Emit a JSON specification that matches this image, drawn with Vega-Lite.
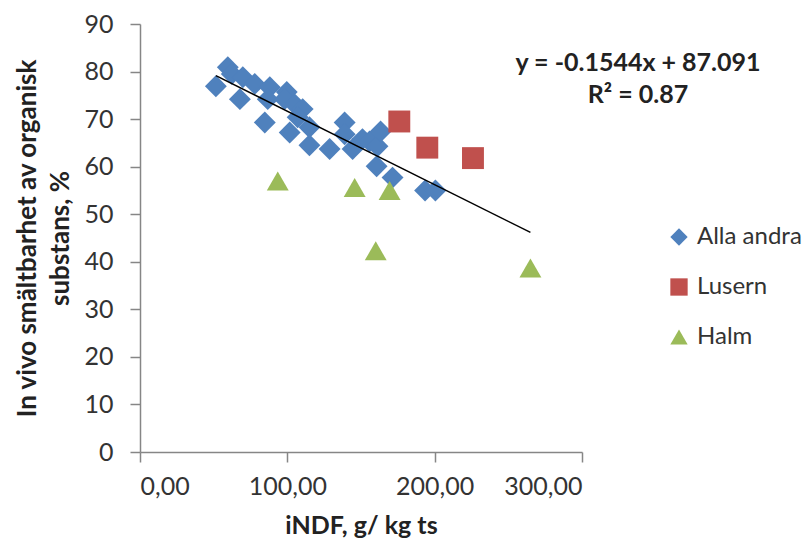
{
  "$schema": "https://vega.github.io/schema/vega-lite/v6.json",
  "width": 442,
  "height": 428,
  "autosize": {"type": "none"},
  "padding": {"left": 140, "top": 24, "right": 223, "bottom": 91},
  "background": "white",
  "config": {
    "view": {"stroke": null},
    "font": "Lato",
    "axis": {"grid": false, "domainColor": "#868686", "tickColor": "#868686", "labelColor": "#333333", "titleColor": "#222222", "labelFont": "Lato", "titleFont": "Lato", "labelFontSize": 25, "titleFontSize": 26, "titleFontWeight": "bold", "tickSize": 10, "domainWidth": 1.5, "tickWidth": 1.5},
    "legend": {"labelFont": "Lato", "labelFontSize": 24, "labelColor": "#333333"}
  },
  "layer": [
    {
      "data": {"values": [
        {"x": 51.5, "y": 76.9, "s": "Alla andra"},
        {"x": 59.6, "y": 80.9, "s": "Alla andra"},
        {"x": 62.3, "y": 79.5, "s": "Alla andra"},
        {"x": 69.8, "y": 78.8, "s": "Alla andra"},
        {"x": 67.8, "y": 74.2, "s": "Alla andra"},
        {"x": 77.9, "y": 77.4, "s": "Alla andra"},
        {"x": 88.1, "y": 76.7, "s": "Alla andra"},
        {"x": 84.7, "y": 69.3, "s": "Alla andra"},
        {"x": 86.7, "y": 74.2, "s": "Alla andra"},
        {"x": 99.6, "y": 75.7, "s": "Alla andra"},
        {"x": 98.2, "y": 74.2, "s": "Alla andra"},
        {"x": 101.6, "y": 67.2, "s": "Alla andra"},
        {"x": 105.0, "y": 73.1, "s": "Alla andra"},
        {"x": 110.4, "y": 72.1, "s": "Alla andra"},
        {"x": 107.0, "y": 70.4, "s": "Alla andra"},
        {"x": 115.0, "y": 64.5, "s": "Alla andra"},
        {"x": 115.0, "y": 68.3, "s": "Alla andra"},
        {"x": 128.7, "y": 63.7, "s": "Alla andra"},
        {"x": 138.9, "y": 69.3, "s": "Alla andra"},
        {"x": 138.9, "y": 66.8, "s": "Alla andra"},
        {"x": 144.3, "y": 63.7, "s": "Alla andra"},
        {"x": 151.0, "y": 65.8, "s": "Alla andra"},
        {"x": 155.8, "y": 65.3, "s": "Alla andra"},
        {"x": 161.2, "y": 64.3, "s": "Alla andra"},
        {"x": 163.3, "y": 67.4, "s": "Alla andra"},
        {"x": 160.6, "y": 60.1, "s": "Alla andra"},
        {"x": 171.4, "y": 57.7, "s": "Alla andra"},
        {"x": 193.5, "y": 55.0, "s": "Alla andra"},
        {"x": 200.5, "y": 55.0, "s": "Alla andra"},
        {"x": 176.0, "y": 69.5, "s": "Lusern"},
        {"x": 195.0, "y": 64.0, "s": "Lusern"},
        {"x": 226.0, "y": 61.8, "s": "Lusern"},
        {"x": 93.5, "y": 57.0, "s": "Halm"},
        {"x": 145.7, "y": 55.6, "s": "Halm"},
        {"x": 169.4, "y": 55.0, "s": "Halm"},
        {"x": 160.0, "y": 42.3, "s": "Halm"},
        {"x": 265.0, "y": 38.7, "s": "Halm"}
      ]},
      "mark": {"type": "point", "filled": true, "opacity": 1, "size": 480},
      "encoding": {
        "x": {"field": "x", "type": "quantitative", "scale": {"domain": [0, 300]}, "axis": {"values": [0, 100, 200, 300], "labelExpr": "replace(format(datum.value, '.2f'), '.', ',')", "title": "iNDF, g/ kg ts", "titleFontSize": 25, "titlePadding": 14, "labelPadding": 12}},
        "y": {"field": "y", "type": "quantitative", "scale": {"domain": [0, 90]}, "axis": {"values": [0, 10, 20, 30, 40, 50, 60, 70, 80, 90], "title": ["In vivo smältbarhet av organisk", "substans, %"], "titleLineHeight": 33, "titlePadding": 10, "labelPadding": 17}},
        "color": {"field": "s", "type": "nominal", "scale": {"domain": ["Alla andra", "Lusern", "Halm"], "range": ["#4F81BD", "#C0504D", "#9BBB59"]}, "legend": {"title": null, "orient": "none", "legendX": 527, "legendY": 201, "rowPadding": 26, "symbolSize": 300, "labelOffset": 6}},
        "shape": {"field": "s", "type": "nominal", "scale": {"domain": ["Alla andra", "Lusern", "Halm"], "range": ["diamond", "square", "triangle-up"]}, "legend": {"title": null, "orient": "none", "legendX": 527, "legendY": 201, "rowPadding": 26, "symbolSize": 300, "labelOffset": 6}}
      }
    },
    {
      "data": {"values": [{"x": 51.5, "y": 79.14}, {"x": 265.0, "y": 46.17}]},
      "mark": {"type": "line", "color": "black", "strokeWidth": 1.5},
      "encoding": {"x": {"field": "x", "type": "quantitative"}, "y": {"field": "y", "type": "quantitative"}}
    },
    {
      "data": {"values": [{"x": 338, "y": 81.8, "t": "y = -0.1544x + 87.091"}, {"x": 338, "y": 75.0, "t": "R² = 0.87"}]},
      "mark": {"type": "text", "fontWeight": "bold", "fontSize": 25, "font": "Lato", "color": "#222222", "clip": false},
      "encoding": {"x": {"field": "x", "type": "quantitative"}, "y": {"field": "y", "type": "quantitative"}, "text": {"field": "t"}}
    }
  ]
}
